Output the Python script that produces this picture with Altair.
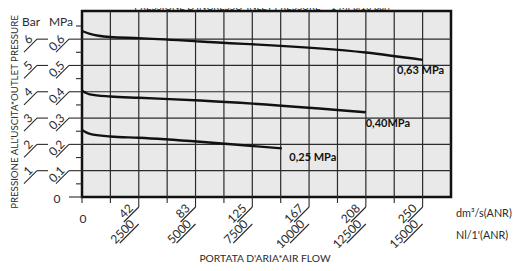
import altair as alt
import pandas as pd

# ---- data (flow in Nl/min, outlet pressure in MPa) ----
c63_x = [0, 350, 1230, 2500, 5200, 12500, 15000]
c63_y = [0.631, 0.620, 0.608, 0.604, 0.591, 0.549, 0.521]
c40_x = [0, 350, 1250, 2500, 5200, 12500]
c40_y = [0.404, 0.390, 0.382, 0.377, 0.367, 0.322]
c25_x = [0, 350, 1250, 2500, 5200, 8800]
c25_y = [0.255, 0.240, 0.230, 0.225, 0.210, 0.185]
curve_labels = ["0,63 MPa", "0,40MPa", "0,25 MPa"]

nl_ticks = [2500, 5000, 7500, 10000, 12500, 15000]
dm_labels = ["42", "83", "125", "167", "208", "250"]
nl_labels = ["2500", "5000", "7500", "10000", "12500", "15000"]
half_x = [1250, 3750, 6250, 8750, 11250, 13750]

mpa_vals = [0.1, 0.2, 0.3, 0.4, 0.5, 0.6]
mpa_labels = ["0,1", "0,2", "0,3", "0,4", "0,5", "0,6"]
bar_labels = ["1", "2", "3", "4", "5", "6"]
row_vals = [0.0, 0.1, 0.2, 0.3, 0.4, 0.5, 0.6]
minor_vals = [0.05, 0.15, 0.25, 0.35, 0.45, 0.55, 0.65]

X_MAX, Y_MAX = 16250, 0.707
W, H = 369, 186
FONT = "Lato"
TXT = "#2b2b2b"

xs = alt.Scale(domain=[0, X_MAX], nice=False, zero=False)
ys = alt.Scale(domain=[0, Y_MAX], nice=False, zero=False)

curves = pd.concat([
    pd.DataFrame({"flow": c63_x, "p": c63_y, "s": curve_labels[0]}),
    pd.DataFrame({"flow": c40_x, "p": c40_y, "s": curve_labels[1]}),
    pd.DataFrame({"flow": c25_x, "p": c25_y, "s": curve_labels[2]}),
])
ends = pd.DataFrame({
    "flow": [c63_x[-1], c40_x[-1], c25_x[-1]],
    "p": [c63_y[-1], c40_y[-1], c25_y[-1]],
    "lab": curve_labels,
})
xt = pd.DataFrame({"nl": nl_ticks, "dm": dm_labels, "nll": nl_labels, "half": half_x})
yl = pd.DataFrame({"v": mpa_vals, "mpa": mpa_labels, "bar": bar_labels})
rows = pd.DataFrame({"v": row_vals})
minors = pd.DataFrame({"v": minor_vals})

# grid as two-point segments spanning the scale domain
grid_rows = []
for gx in sorted(half_x + nl_ticks):
    grid_rows += [{"gx": gx, "gy": 0.0, "id": f"v{gx}"}, {"gx": gx, "gy": Y_MAX, "id": f"v{gx}"}]
for gy in mpa_vals:
    grid_rows += [{"gx": 0, "gy": gy, "id": f"h{gy}"}, {"gx": X_MAX, "gy": gy, "id": f"h{gy}"}]
grid_df = pd.DataFrame(grid_rows)

X = lambda f: alt.X(f, scale=xs, axis=None)
Y = lambda f: alt.Y(f, scale=ys, axis=None)

grid = alt.Chart(grid_df).mark_line(color=TXT, strokeWidth=1.2).encode(
    x=X("gx:Q"), y=Y("gy:Q"), detail="id:N")
half_ticks = alt.Chart(xt).mark_rule(color=TXT, strokeWidth=1.1).encode(
    x=X("half:Q"), y=alt.value(H), y2=alt.value(H + 6))
zero_tick = alt.Chart(rows).transform_filter(alt.datum.v == 0).mark_rule(color=TXT, strokeWidth=1.1).encode(
    x=X("v:Q"), y=alt.value(H), y2=alt.value(H + 6))

lines = alt.Chart(curves).mark_line(color="#111111", strokeWidth=2.4, interpolate="monotone").encode(
    x=X("flow:Q"), y=Y("p:Q"), detail="s:N")

def end_label(i, dx, dy):
    return alt.Chart(ends).transform_filter(alt.datum.lab == curve_labels[i]).mark_text(
        font=FONT, fontSize=11, fontWeight="bold", color="#111111", align="center",
        baseline="middle", dx=dx, dy=dy).encode(
        x=X("flow:Q"), y=Y("p:Q"), text="lab:N")

lab63 = end_label(0, -2, 11)
lab40 = end_label(1, 22, 12)
lab25 = end_label(2, 31, 10)

# ---- y-axis decorations ----
y_hline = alt.Chart(rows).mark_rule(color=TXT, strokeWidth=1.1).encode(
    x=alt.value(-13), x2=alt.value(0), y=Y("v:Q"))
y_hline_bar = alt.Chart(yl).mark_rule(color=TXT, strokeWidth=1.1).encode(
    x=alt.value(-45), x2=alt.value(-34), y=Y("v:Q"))
y_slash_mpa = alt.Chart(yl).mark_rule(color=TXT, strokeWidth=1.1, y2Offset=13).encode(
    x=alt.value(-13), x2=alt.value(-26), y=Y("v:Q"), y2="v:Q")
y_slash_bar = alt.Chart(yl).mark_rule(color=TXT, strokeWidth=1.1, y2Offset=13).encode(
    x=alt.value(-45), x2=alt.value(-58), y=Y("v:Q"), y2="v:Q")
y_minor = alt.Chart(minors).mark_rule(color=TXT, strokeWidth=1.1).encode(
    x=alt.value(-6), x2=alt.value(0), y=Y("v:Q"))
y_mpa_txt = alt.Chart(yl).mark_text(font=FONT, fontSize=12, color=TXT, align="right",
                                    baseline="alphabetic", angle=315, dx=-3, dy=-2).encode(
    x=alt.value(-13), y=Y("v:Q"), text="mpa:N")
y_bar_txt = alt.Chart(yl).mark_text(font=FONT, fontSize=12, color=TXT, align="right",
                                    baseline="alphabetic", angle=315, dx=-3, dy=-2).encode(
    x=alt.value(-45), y=Y("v:Q"), text="bar:N")
y_zero = alt.Chart(pd.DataFrame({"t": ["0"]})).mark_text(
    font=FONT, fontSize=12, color=TXT, align="center", baseline="middle").encode(
    x=alt.value(-25), y=alt.value(188), text="t:N")
y_bar_unit = alt.Chart(pd.DataFrame({"t": ["Bar"]})).mark_text(
    font=FONT, fontSize=12, color=TXT, align="center", baseline="middle").encode(
    x=alt.value(-51), y=alt.value(11), text="t:N")
y_mpa_unit = alt.Chart(pd.DataFrame({"t": ["MPa"]})).mark_text(
    font=FONT, fontSize=12, color=TXT, align="center", baseline="middle").encode(
    x=alt.value(-21), y=alt.value(11), text="t:N")
y_title = alt.Chart(pd.DataFrame({"t": ["PRESSIONE ALL'USCITA*OUTLET PRESSURE"]})).mark_text(
    font=FONT, fontSize=9.7, color=TXT, align="center", baseline="middle", angle=270).encode(
    x=alt.value(-67), y=alt.value(101), text="t:N")

# ---- x-axis decorations ----
x_vert = alt.Chart(xt).mark_rule(color=TXT, strokeWidth=1.1).encode(
    x=X("nl:Q"), y=alt.value(H), y2=alt.value(H + 10))
x_slash1 = alt.Chart(xt).mark_rule(color=TXT, strokeWidth=1.1, x2Offset=-15).encode(
    x=X("nl:Q"), x2="nl:Q", y=alt.value(H + 10), y2=alt.value(H + 25))
x_slash2 = alt.Chart(xt).mark_rule(color=TXT, strokeWidth=1.1, x2Offset=-19).encode(
    x=X("nl:Q"), x2="nl:Q", y=alt.value(H + 27), y2=alt.value(H + 46))
x_txt1 = alt.Chart(xt).mark_text(font=FONT, fontSize=12, color=TXT, align="right",
                                 baseline="alphabetic", angle=315, dx=-5, dy=-2).encode(
    x=X("nl:Q"), y=alt.value(H + 10), text="dm:N")
x_txt2 = alt.Chart(xt).mark_text(font=FONT, fontSize=12, color=TXT, align="right",
                                 baseline="alphabetic", angle=315, dx=-3, dy=-2).encode(
    x=X("nl:Q"), y=alt.value(H + 27), text="nll:N")
x_zero = alt.Chart(pd.DataFrame({"t": ["0"]})).mark_text(
    font=FONT, fontSize=12, color=TXT, align="center", baseline="middle").encode(
    x=alt.value(1), y=alt.value(208), text="t:N")
x_unit1 = alt.Chart(pd.DataFrame({"t": ["dm³/s(ANR)"]})).mark_text(
    font=FONT, fontSize=10.8, color=TXT, align="left", baseline="middle").encode(
    x=alt.value(374), y=alt.value(203), text="t:N")
x_unit2 = alt.Chart(pd.DataFrame({"t": ["Nl/1'(ANR)"]})).mark_text(
    font=FONT, fontSize=10.8, color=TXT, align="left", baseline="middle").encode(
    x=alt.value(374), y=alt.value(225), text="t:N")
x_title = alt.Chart(pd.DataFrame({"t": ["PORTATA D'ARIA*AIR FLOW"]})).mark_text(
    font=FONT, fontSize=10.3, color=TXT, align="center", baseline="middle").encode(
    x=alt.value(183), y=alt.value(248), text="t:N")
top_title = alt.Chart(pd.DataFrame({"t": ["PRESSIONE D'INGRESSO*INLET PRESSURE = 1 MPa(10 bar)"]})).mark_text(
    font=FONT, fontSize=9.5, color=TXT, align="center", baseline="alphabetic").encode(
    x=alt.value(180), y=alt.value(-1), text="t:N")

chart = alt.layer(
    grid, half_ticks, zero_tick, lines, lab63, lab40, lab25,
    y_hline, y_hline_bar, y_slash_mpa, y_slash_bar, y_minor, y_mpa_txt, y_bar_txt,
    y_zero, y_bar_unit, y_mpa_unit, y_title,
    x_vert, x_slash1, x_slash2, x_txt1, x_txt2, x_zero, x_unit1, x_unit2, x_title, top_title,
).properties(
    width=W, height=H,
    autosize=alt.AutoSizeParams(type="none"),
    padding={"left": 74, "top": 3, "right": 64, "bottom": 66},
    background="white",
).configure_view(
    stroke="#111111", strokeWidth=2.5, fill="#e9e9e9"
)

chart.save("out.html", embed_options={"renderer": "svg", "actions": False})
